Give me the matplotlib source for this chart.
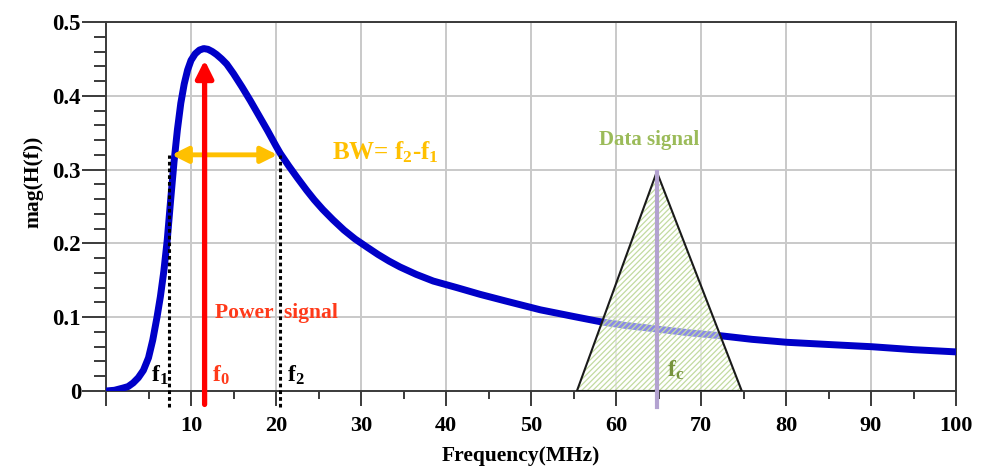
import numpy as np
import matplotlib
matplotlib.use("Agg")
import matplotlib.pyplot as plt
from matplotlib.patches import Polygon, FancyArrowPatch
from matplotlib.ticker import MultipleLocator

# %% data

# transfer function magnitude |H(f)|
freq = [0.0, 1.0, 2.0, 2.6, 3.2, 3.8, 4.4, 5.0, 5.5, 6.0, 6.4, 6.8, 7.2, 7.6, 8.0,
        8.4, 8.8, 9.2, 9.6, 10.0, 10.5, 11.0, 11.5, 12.0, 12.5, 13.0, 13.6, 14.2,
        15.0, 16.0, 17.0, 18.0, 19.0, 20.0, 20.5, 21.5, 22.5, 23.6, 24.5, 25.5,
        26.7, 28.0, 29.3, 30.7, 32.0, 33.3, 34.6, 36.5, 38.5, 41.3, 44.0, 47.0,
        51.1, 55.0, 58.1, 61.0, 64.8, 68.5, 72.2, 76.0, 80.1, 85.0, 90.1, 95.0,
        100.0]
mag = [0.0, 0.001, 0.004, 0.006, 0.011, 0.018, 0.028, 0.045, 0.069, 0.100, 0.128,
       0.162, 0.204, 0.258, 0.310, 0.354, 0.390, 0.416, 0.435, 0.448, 0.457,
       0.462, 0.464, 0.463, 0.460, 0.456, 0.450, 0.443, 0.430, 0.412, 0.393,
       0.373, 0.353, 0.332, 0.322, 0.305, 0.289, 0.272, 0.259, 0.246, 0.232,
       0.218, 0.206, 0.195, 0.185, 0.176, 0.168, 0.158, 0.149, 0.140, 0.131,
       0.122, 0.110, 0.101, 0.094, 0.089, 0.084, 0.079, 0.075, 0.070, 0.066,
       0.063, 0.060, 0.056, 0.053]

f1, f2, f0 = 7.4, 20.5, 11.6
bw_level = 0.32
f0_peak = 0.452

# data signal spectrum (triangle)
tri_x = [55.4, 64.8, 74.8]
tri_y = [0.0, 0.297, 0.0]
fc = 64.8

# %% style

plt.rcParams['font.family'] = ['Liberation Serif', 'DejaVu Serif']
plt.rcParams['font.weight'] = 'bold'
plt.rcParams['mathtext.default'] = 'regular'
plt.rcParams['hatch.linewidth'] = 0.9

fs = 16
grid_col = '#c9c9c9'
spine_col = '#3a3a3a'

fig = plt.figure(figsize=(9.88, 4.70), dpi=100)
ax = fig.add_axes([106/988, 79/470, 850/988, 369/470])

ax.set_xlim(0, 100)
ax.set_ylim(0, 0.5)

# %% grid, ticks and spines

for xv in range(10, 101, 10):
    ax.axvline(xv, color=grid_col, lw=1.4, zorder=0)
for yv in [0.1, 0.2, 0.3, 0.4, 0.5]:
    ax.axhline(yv, color=grid_col, lw=1.4, zorder=0)

ax.xaxis.set_major_locator(MultipleLocator(10))
ax.xaxis.set_minor_locator(MultipleLocator(5))
ax.yaxis.set_major_locator(MultipleLocator(0.1))
ax.yaxis.set_minor_locator(MultipleLocator(0.02))

ax.set_xticklabels(['' if t == 0 else str(int(t)) for t in ax.get_xticks()])
ax.set_yticklabels(['0' if abs(t) < 1e-9 else f'{t:.1f}' for t in ax.get_yticks()])

ax.tick_params(axis='x', which='major', direction='out', length=11, width=1.4,
               color=spine_col, pad=7, labelsize=fs)
ax.tick_params(axis='x', which='minor', direction='out', length=6, width=1.4,
               color=spine_col)
ax.tick_params(axis='y', which='major', direction='out', length=17, width=1.4,
               color=spine_col, pad=1, labelsize=16.5)
ax.tick_params(axis='y', which='minor', direction='out', length=9, width=1.4,
               color=spine_col)

for sp in ax.spines.values():
    sp.set_color(spine_col)
    sp.set_linewidth(1.4)

ax.set_xlabel('Frequency(MHz)', fontsize=15.5, fontweight='bold')
ax.set_ylabel('mag(H(f))', fontsize=15.5, fontweight='bold')
ax.xaxis.set_label_coords(0.488, -0.150)
ax.yaxis.set_label_coords(-0.073, 0.566)

# %% transfer function

ax.plot(freq, mag, color='#0000c8', lw=5, solid_capstyle='round',
        solid_joinstyle='round', zorder=3)

# bandwidth markers
for fx in (f1, f2):
    ax.plot([fx, fx], [-0.022, bw_level], color='black', lw=2.2,
            ls=(0, (1.2, 1.0)), clip_on=False, zorder=4)

ax.add_patch(FancyArrowPatch((f1, bw_level), (f2, bw_level), arrowstyle='<|-|>',
                             mutation_scale=24, color='#ffc000', lw=3.5, zorder=5))

# power signal carrier
ax.add_patch(FancyArrowPatch((f0, -0.022), (f0, f0_peak), arrowstyle='-|>',
                             mutation_scale=26, color='#ff0000', lw=3.8,
                             clip_on=False, zorder=5))

# %% data signal

ax.add_patch(Polygon(list(zip(tri_x, tri_y)), closed=True, facecolor=(1, 1, 1, 0.55),
                     edgecolor='#c2dba0', lw=0, hatch='//////', zorder=6))
ax.add_patch(Polygon(list(zip(tri_x, tri_y)), closed=True, fill=False,
                     edgecolor='#1a1a1a', lw=1.5, zorder=7))
ax.plot([fc, fc], [-0.022, tri_y[1]], color='#b3a2d0', lw=3, clip_on=False, zorder=7)

# %% annotations

ax.text(5.3, 0.006, '$f_1$', fontsize=17, color='black', ha='left', va='bottom', zorder=8)
ax.text(12.5, 0.006, '$f_0$', fontsize=17, color='#ff3a1a', ha='left', va='bottom', zorder=8)
ax.text(21.3, 0.006, '$f_2$', fontsize=17, color='black', ha='left', va='bottom', zorder=8)
ax.text(20.0, 0.106, 'Power  signal', fontsize=15.5, color='#ff3a1a', ha='center',
        va='center', zorder=3)
ax.text(26.6, 0.323, 'BW= $f_2$-$f_1$', fontsize=18, color='#ffc000',
        ha='left', va='center', zorder=8)
ax.text(63.9, 0.340, 'Data signal', fontsize=15, color='#9bbb59', ha='center',
        va='center', zorder=8)
ax.text(66.0, 0.012, '$f_c$', fontsize=17, color='#77933c', ha='left', va='bottom', zorder=8)

# %% save

plt.savefig('out.png', dpi=100)
